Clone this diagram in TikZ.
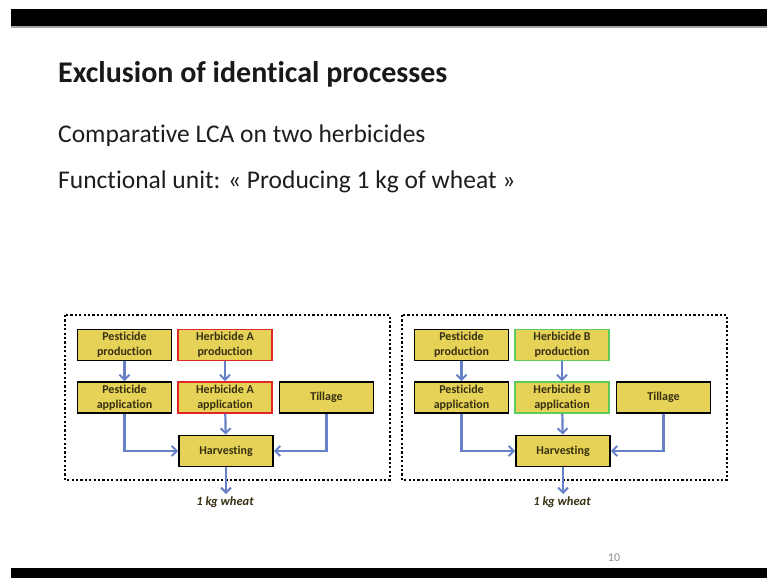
\documentclass[tikz,border=0pt]{standalone}
\usepackage{fontspec}
\setmainfont{Carlito}[Ligatures=NoCommon]
\usetikzlibrary{arrows.meta,calc}
\definecolor{boxfill}{RGB}{229,210,86}
\definecolor{flowblue}{RGB}{104,128,200}
\definecolor{herbred}{RGB}{222,40,40}
\definecolor{herbgreen}{RGB}{92,204,92}
\definecolor{boxtext}{RGB}{55,48,18}
\definecolor{bodytext}{RGB}{30,30,30}
\tikzset{
  procbox/.style={draw=black, line width=1.8pt, fill=boxfill, minimum width=94pt,
    minimum height=31pt, inner sep=0pt, align=center, text=boxtext,
    font=\fontsize{12}{15}\selectfont\bfseries},
  flow/.style={draw=flowblue, line width=2.2pt, -{Straight Barb[length=5pt,width=10pt,line width=2pt]}},
  boundary/.style={draw=black, line width=2.6pt, dash pattern=on 2.2pt off 2.2pt},
}
% one product system: suffix, horizontal shift, herbicide letter, herbicide border colour
\newcommand\lcaflow[4]{%
  \begin{scope}[xshift=#2]
    \draw[boundary] (65,315) rectangle (390,480);
    \node[procbox] (pp#1) at (124.5,345) {Pesticide\\production};
    \node[procbox, draw=#4] (hp#1) at (225,345) {Herbicide #3\\production};
    \node[procbox] (pa#1) at (124.5,397.5) {Pesticide\\application};
    \node[procbox, draw=#4] (ha#1) at (225,397.5) {Herbicide #3\\application};
    \node[procbox] (ti#1) at (326.5,397.5) {Tillage};
    \node[procbox] (hv#1) at (226,451) {Harvesting};
    \coordinate (out#1) at (226,494);
    \node[font=\fontsize{12.5}{14}\selectfont\bfseries\itshape, text=boxtext] (fu#1) at (225,502.5) {1 kg wheat};
    \draw[flow] (pp#1) -- (pa#1);
    \draw[flow] (hp#1) -- (ha#1);
    \draw[flow] (ha#1) -- (hv#1);
    \draw[flow] (pa#1.south) |- (hv#1.west);
    \draw[flow] (ti#1.south) |- (hv#1.east);
    \draw[flow] (hv#1.south) -- (out#1);
  \end{scope}}
\begin{document}
\begin{tikzpicture}[x=1pt,y=-1pt]
  \useasboundingbox[fill=white] (0,0) rectangle (767,578);
  % slide bars
  \fill[black] (11,9) rectangle (767,26);
  \fill[black!35] (11,26) rectangle (767,28);
  \fill[black] (11,568) rectangle (767,578);
  % headings
  \node[anchor=base west, inner sep=0pt, font=\fontsize{30}{34}\selectfont\bfseries, text=black!90] (title) at (58,82) {Exclusion of identical processes};
  \node[anchor=base west, inner sep=0pt, font=\fontsize{25.5}{30}\selectfont, text=bodytext] (line1) at (58,142) {Comparative LCA on two herbicides};
  \node[anchor=base west, inner sep=0pt, font=\fontsize{25.5}{30}\selectfont, text=bodytext] (line2) at (58,188) {Functional unit: « Producing 1 kg of wheat »};
  \node[font=\fontsize{12}{14}\selectfont, text=black!45] (pagenum) at (614,558) {10};
  % the two compared systems
  \lcaflow{a}{0pt}{A}{herbred}
  \lcaflow{b}{337pt}{B}{herbgreen}
\end{tikzpicture}
\end{document}
